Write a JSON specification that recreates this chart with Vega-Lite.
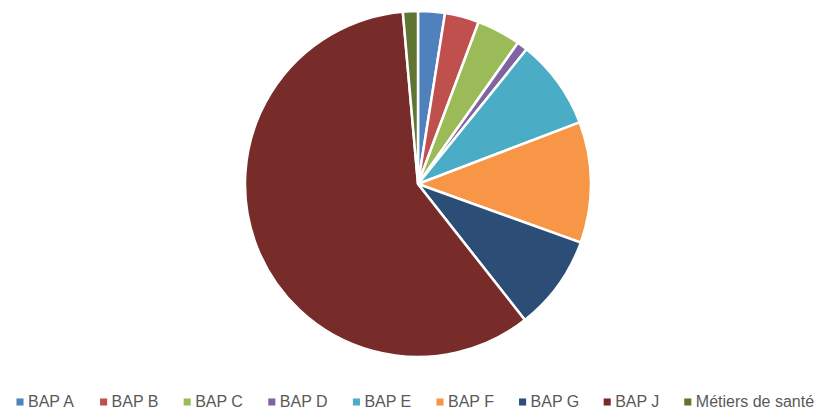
{
  "$schema": "https://vega.github.io/schema/vega-lite/v6.json",
  "width": 836,
  "height": 368,
  "padding": {"left": 0, "top": 0, "right": 2, "bottom": 0},
  "background": "white",
  "data": {
    "values": [
      {"cat": "BAP A", "val": 25, "idx": 1},
      {"cat": "BAP B", "val": 32, "idx": 2},
      {"cat": "BAP C", "val": 41, "idx": 3},
      {"cat": "BAP D", "val": 10, "idx": 4},
      {"cat": "BAP E", "val": 84, "idx": 5},
      {"cat": "BAP F", "val": 113, "idx": 6},
      {"cat": "BAP G", "val": 89, "idx": 7},
      {"cat": "BAP J", "val": 592, "idx": 8},
      {"cat": "Métiers de santé", "val": 14, "idx": 9}
    ]
  },
  "mark": {"type": "arc", "radius": 173, "stroke": "white", "strokeWidth": 2.5},
  "encoding": {
    "theta": {"field": "val", "type": "quantitative", "stack": true},
    "order": {"field": "idx", "type": "quantitative"},
    "color": {
      "field": "cat",
      "type": "nominal",
      "sort": ["BAP A", "BAP B", "BAP C", "BAP D", "BAP E", "BAP F", "BAP G", "BAP J", "Métiers de santé"],
      "scale": {
        "domain": ["BAP A", "BAP B", "BAP C", "BAP D", "BAP E", "BAP F", "BAP G", "BAP J", "Métiers de santé"],
        "range": ["#4F81BD", "#C0504D", "#9BBB59", "#8064A2", "#4BACC6", "#F79646", "#2C4D75", "#772C2A", "#5F7530"]
      },
      "legend": {
        "orient": "none",
        "legendX": 12,
        "legendY": 394,
        "direction": "horizontal",
        "title": null,
        "gridAlign": "none",
        "symbolType": "square",
        "symbolSize": 50,
        "symbolStrokeWidth": 0,
        "labelFont": "Liberation Sans",
        "labelFontSize": 16,
        "labelColor": "#595959",
        "labelOffset": 0,
        "columnPadding": 19.6,
        "labelLimit": 200
      }
    }
  },
  "config": {"view": {"stroke": null}}
}
